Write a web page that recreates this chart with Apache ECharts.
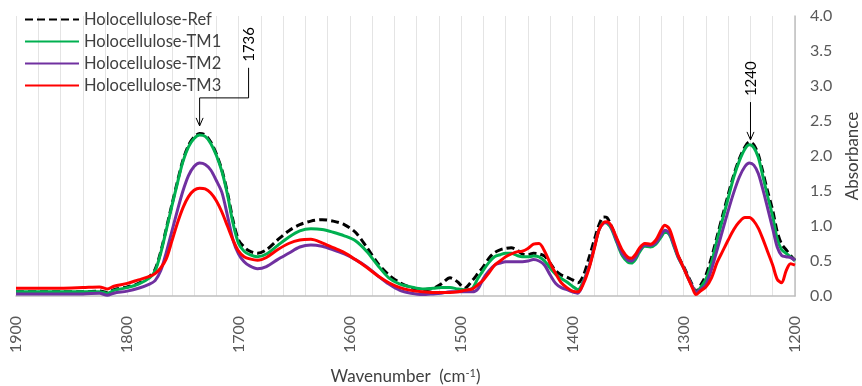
<!DOCTYPE html>
<html>
	<head>
		<meta charset="UTF-8">
		<title></title>
		<script src="https://cdn.jsdelivr.net/npm/echarts@6/dist/echarts.min.js" type="text/javascript" charset="utf-8"></script>
	</head>
	<body style="height: 100%; margin: 0">
		<div id="container" style="width: 862px; height: 386px"></div>
		<script type="text/javascript">
			var wavenumbers = [1900, 1880, 1860, 1840, 1825, 1818, 1812, 1800, 1790, 1780,
				1775, 1770, 1765, 1760, 1755, 1750, 1745, 1740, 1735, 1730,
				1725, 1720, 1715, 1710, 1705, 1700, 1695, 1690, 1683, 1675,
				1665, 1655, 1645, 1635, 1625, 1615, 1605, 1595, 1585, 1575,
				1565, 1555, 1545, 1535, 1525, 1518, 1510, 1503, 1497, 1490,
				1485, 1480, 1475, 1470, 1465, 1460, 1455, 1450, 1445, 1440,
				1435, 1430, 1425, 1420, 1415, 1410, 1405, 1400, 1395, 1390,
				1385, 1380, 1376, 1372, 1369, 1365, 1360, 1355, 1350, 1347,
				1343, 1340, 1335, 1330, 1325, 1320, 1317, 1313, 1309, 1305,
				1300, 1296, 1292, 1289, 1285, 1280, 1275, 1270, 1265, 1260,
				1255, 1250, 1245, 1241, 1237, 1233, 1229, 1225, 1220, 1216,
				1212, 1208, 1204, 1200];

			var refAbs = [0.06, 0.06, 0.06, 0.06, 0.07, 0.05, 0.09, 0.13, 0.18, 0.28,
				0.38, 0.63, 0.96, 1.30, 1.63, 1.94, 2.15, 2.27, 2.32, 2.30,
				2.20, 2.03, 1.80, 1.48, 1.08, 0.80, 0.70, 0.64, 0.61, 0.66,
				0.80, 0.93, 1.02, 1.07, 1.09, 1.07, 1.02, 0.91, 0.70, 0.47,
				0.30, 0.19, 0.12, 0.09, 0.11, 0.17, 0.26, 0.20, 0.11, 0.22,
				0.32, 0.42, 0.54, 0.62, 0.66, 0.68, 0.69, 0.66, 0.60, 0.59,
				0.61, 0.60, 0.57, 0.47, 0.36, 0.30, 0.27, 0.23, 0.19, 0.30,
				0.55, 0.82, 1.02, 1.13, 1.12, 1.00, 0.80, 0.60, 0.51, 0.50,
				0.56, 0.64, 0.73, 0.73, 0.77, 0.88, 0.93, 0.90, 0.74, 0.57,
				0.42, 0.28, 0.15, 0.06, 0.15, 0.30, 0.55, 0.85, 1.15, 1.45,
				1.73, 1.96, 2.13, 2.20, 2.16, 2.02, 1.78, 1.52, 1.22, 0.92,
				0.74, 0.66, 0.58, 0.51];

			var tm1Abs = [0.06, 0.06, 0.06, 0.06, 0.06, 0.04, 0.08, 0.12, 0.17, 0.26,
				0.36, 0.61, 0.94, 1.28, 1.61, 1.92, 2.13, 2.25, 2.30, 2.28,
				2.18, 2.01, 1.78, 1.45, 1.04, 0.75, 0.64, 0.59, 0.56, 0.60,
				0.72, 0.84, 0.93, 0.96, 0.95, 0.91, 0.86, 0.79, 0.64, 0.44,
				0.26, 0.17, 0.13, 0.10, 0.11, 0.12, 0.12, 0.10, 0.09, 0.11,
				0.25, 0.37, 0.48, 0.56, 0.59, 0.61, 0.61, 0.58, 0.56, 0.56,
				0.57, 0.56, 0.50, 0.40, 0.31, 0.25, 0.20, 0.14, 0.09, 0.22,
				0.42, 0.72, 0.95, 1.05, 1.04, 0.96, 0.76, 0.57, 0.48, 0.47,
				0.53, 0.62, 0.71, 0.70, 0.74, 0.85, 0.91, 0.88, 0.72, 0.55,
				0.40, 0.26, 0.13, 0.05, 0.12, 0.24, 0.48, 0.80, 1.10, 1.40,
				1.70, 1.93, 2.10, 2.16, 2.12, 1.98, 1.72, 1.45, 1.13, 0.82,
				0.66, 0.61, 0.56, 0.50];

			var tm2Abs = [0.03, 0.03, 0.03, 0.03, 0.04, 0.01, 0.04, 0.07, 0.11, 0.17,
				0.22, 0.36, 0.62, 0.92, 1.22, 1.50, 1.72, 1.85, 1.90, 1.88,
				1.80, 1.65, 1.48, 1.15, 0.80, 0.60, 0.49, 0.43, 0.39, 0.42,
				0.52, 0.61, 0.70, 0.73, 0.71, 0.66, 0.60, 0.52, 0.42, 0.29,
				0.17, 0.08, 0.04, 0.02, 0.03, 0.04, 0.06, 0.06, 0.06, 0.06,
				0.10, 0.25, 0.36, 0.44, 0.47, 0.49, 0.49, 0.49, 0.49, 0.50,
				0.52, 0.50, 0.44, 0.30, 0.18, 0.12, 0.09, 0.06, 0.04, 0.20,
				0.42, 0.72, 0.95, 1.04, 1.05, 0.98, 0.78, 0.60, 0.51, 0.50,
				0.56, 0.65, 0.73, 0.72, 0.76, 0.88, 0.94, 0.90, 0.74, 0.56,
				0.40, 0.26, 0.13, 0.05, 0.09, 0.17, 0.38, 0.66, 0.94, 1.22,
				1.48, 1.70, 1.85, 1.90, 1.87, 1.75, 1.53, 1.28, 0.96, 0.70,
				0.58, 0.56, 0.55, 0.51];

			var tm3Abs = [0.11, 0.11, 0.11, 0.12, 0.13, 0.10, 0.14, 0.18, 0.23, 0.28,
				0.32, 0.40, 0.53, 0.78, 1.04, 1.26, 1.42, 1.51, 1.54, 1.53,
				1.47, 1.36, 1.20, 1.00, 0.80, 0.64, 0.56, 0.53, 0.51, 0.55,
				0.66, 0.75, 0.80, 0.81, 0.76, 0.69, 0.62, 0.52, 0.41, 0.29,
				0.19, 0.12, 0.08, 0.06, 0.05, 0.05, 0.05, 0.06, 0.08, 0.10,
				0.16, 0.23, 0.33, 0.44, 0.50, 0.56, 0.60, 0.63, 0.64, 0.68,
				0.74, 0.75, 0.64, 0.47, 0.32, 0.19, 0.12, 0.07, 0.06, 0.18,
				0.40, 0.70, 0.95, 1.05, 1.06, 1.00, 0.82, 0.65, 0.55, 0.54,
				0.60, 0.68, 0.75, 0.74, 0.80, 0.95, 1.01, 0.96, 0.78, 0.58,
				0.40, 0.25, 0.11, 0.02, 0.07, 0.13, 0.26, 0.48, 0.64, 0.80,
				0.95, 1.06, 1.12, 1.12, 1.07, 0.97, 0.82, 0.65, 0.44, 0.24,
				0.19, 0.36, 0.46, 0.44];

			var seriesNames = ['Holocellulose-Ref', 'Holocellulose-TM1', 'Holocellulose-TM2', 'Holocellulose-TM3'];
			var seriesColors = ['#000000', '#00B050', '#7030A0', '#FF0000'];

			// peak call-outs, path given in (wavenumber, absorbance)
			var callouts = [
				{ text: '1736', path: [[1691, 3.26], [1691, 2.83], [1735, 2.83], [1735, 2.43]] },
				{ text: '1240', path: [[1240, 2.77], [1240, 2.23]] }
			];

			function pairs(vals) {
				return wavenumbers.map(function (w, i) { return [w, vals[i]]; });
			}

			var dom = document.getElementById("container");
			var myChart = echarts.init(dom, null, { renderer: 'canvas' });
			var allVals = [refAbs, tm1Abs, tm2Abs, tm3Abs];

			var option = {
				animation: false,
				textStyle: { fontFamily: 'Lato' },
				legend: {
					orient: 'vertical',
					left: 19,
					top: 6,
					itemWidth: 54,
					itemHeight: 14,
					itemGap: 5,
					itemStyle: { opacity: 0 },
					textStyle: { fontSize: 16.5, lineHeight: 17, color: '#404040', fontFamily: 'Lato' },
					data: seriesNames
				},
				grid: { left: 16, right: 67, top: 16, bottom: 90, outerBoundsMode: 'none', containLabel: false },
				xAxis: {
					type: 'value',
					min: 1200,
					max: 1900,
					interval: 20,
					inverse: true,
					name: 'Wavenumber  (cm{sup|-1})',
					nameLocation: 'middle',
					nameGap: 72,
					nameTextStyle: {
						fontSize: 17, color: '#404040', fontFamily: 'Lato',
						rich: { sup: { fontSize: 11, verticalAlign: 'top', color: '#404040', padding: [0, 0, 6, 0] } }
					},
					axisLine: { lineStyle: { color: '#bfbfbf', width: 1.5 } },
					axisTick: { show: false },
					axisLabel: {
						rotate: 90,
						fontSize: 16,
						color: '#595959',
						margin: 20,
						formatter: function (v) { return v % 100 === 0 ? String(v) : ''; }
					},
					splitLine: { show: true, lineStyle: { color: '#e4e4e4', width: 1 } }
				},
				yAxis: {
					type: 'value',
					position: 'right',
					min: 0,
					max: 4,
					interval: 0.5,
					name: 'Absorbance',
					nameLocation: 'middle',
					nameGap: 49,
					nameTextStyle: { fontSize: 17, color: '#404040', fontFamily: 'Lato' },
					axisLine: { show: true, lineStyle: { color: '#bfbfbf', width: 1.5 } },
					axisTick: { show: false },
					axisLabel: {
						fontSize: 16,
						color: '#595959',
						margin: 15,
						formatter: function (v) { return v.toFixed(1); }
					},
					splitLine: { show: false }
				},
				series: seriesNames.map(function (name, i) {
					return {
						name: name,
						type: 'line',
						symbol: 'none',
						smooth: 0.3,
						color: seriesColors[i],
						lineStyle: {
							color: seriesColors[i],
							width: 3,
							type: i === 0 ? [8, 4] : 'solid'
						},
						data: pairs(allVals[i])
					};
				})
			};

			myChart.setOption(option);

			var graphics = [];
			callouts.forEach(function (c) {
				var pts = c.path.map(function (p) { return myChart.convertToPixel({ gridIndex: 0 }, p); });
				graphics.push({
					type: 'polyline',
					shape: { points: pts },
					style: { stroke: '#000', lineWidth: 1, fill: null },
					z: 100
				});
				var tip = pts[pts.length - 1];
				graphics.push({
					type: 'polyline',
					shape: { points: [[tip[0] - 3.5, tip[1] - 8], [tip[0], tip[1]], [tip[0] + 3.5, tip[1] - 8]] },
					style: { stroke: '#000', lineWidth: 1, fill: null },
					z: 100
				});
				graphics.push({
					type: 'text',
					x: pts[0][0] + 1,
					y: pts[0][1] - 6,
					rotation: Math.PI / 2,
					style: {
						text: c.text,
						fill: '#000',
						font: '15px Lato',
						textAlign: 'left',
						textVerticalAlign: 'middle'
					},
					z: 100
				});
			});
			myChart.setOption({ graphic: graphics });
		</script>
	</body>
</html>
